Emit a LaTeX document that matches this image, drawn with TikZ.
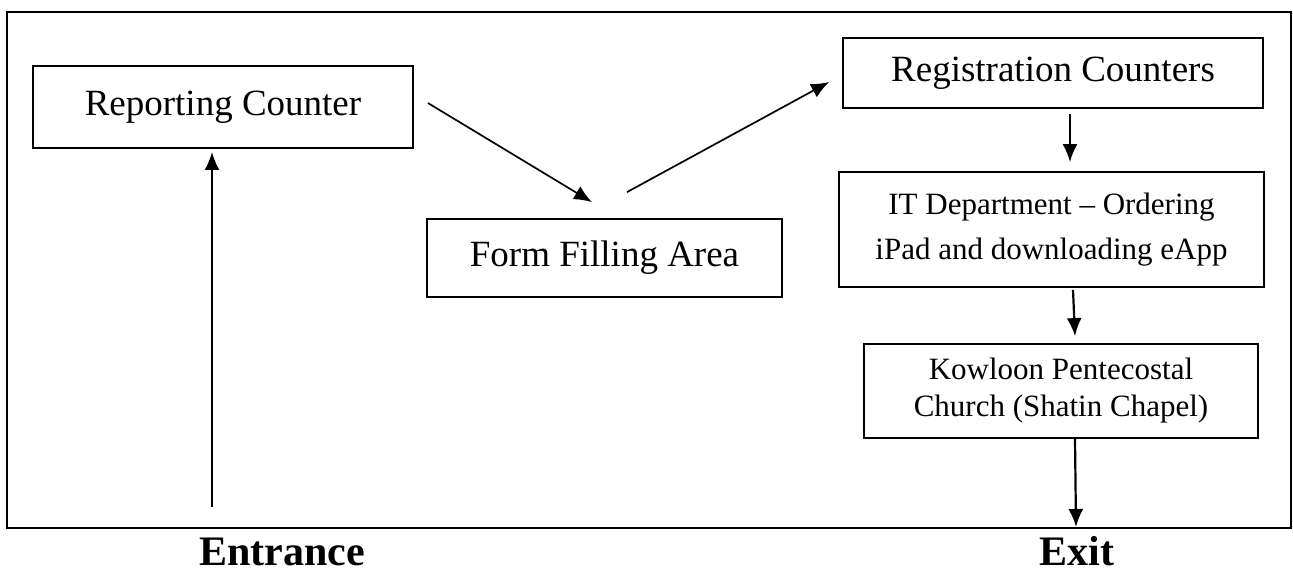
\documentclass[tikz,border=0pt]{standalone}
\usepackage{fontspec}
\setmainfont{Liberation Serif}
\usetikzlibrary{arrows.meta,calc,positioning}
\tikzset{%
	station/.style = {draw, rectangle, line width=1.8pt, inner sep=0pt, text centered, font=\fontsize{37}{44}\selectfont},
	smalltext/.style = {align=center, font=\fontsize{31}{#1}\selectfont},
	gate/.style    = {anchor=base, font=\fontsize{42}{50}\selectfont\bfseries},
	arrow/.style   = {line width=2.2pt, -{Latex[length=18pt,width=15pt]}},
	slant/.style   = {line width=1.7pt},
}
\begin{document}
\begin{tikzpicture}[x=1pt,y=-1pt]
	\useasboundingbox (0,0) rectangle (1293,574);
	\fill[white] (0,0) rectangle (1293,574);
	\draw[line width=2.6pt] (7,12) rectangle (1291,528);  % hall

	\node[station, minimum width=380pt, minimum height=82pt] (report) at (223,107) {Reporting Counter};
	\node[station, minimum width=355pt, minimum height=78pt] (form) at (604.5,258) {Form Filling Area};
	\node[station, minimum width=420pt, minimum height=70pt] (regist) at (1053,73) {Registration Counters};
	\node[station, smalltext=45, minimum width=425pt, minimum height=115pt] (itdept) at (1051.5,229.5) {IT Department -- Ordering\\iPad and downloading eApp};
	\node[station, smalltext=37, minimum width=394pt, minimum height=94pt] (church) at (1061,391) {Kowloon Pentecostal\\Church (Shatin Chapel)};

	\node[gate] (entrance) at (282,565) {Entrance};
	\node[gate] (exit) at (1077,565) {Exit};

	\coordinate (in) at (212,507);
	\coordinate (out) at (1076,527);

	\draw[arrow, shorten >=3pt] (in) -- (in |- report.south);
	\draw[arrow, slant] ([xshift=14pt,yshift=4pt]report.east) -- ([xshift=-12.5pt,yshift=16pt]form.north);
	\draw[arrow, slant] ([xshift=22.5pt,yshift=26pt]form.north) -- ([xshift=-13pt,yshift=-9pt]regist.west);
	\draw[arrow] ([xshift=17pt,yshift=-5pt]regist.south) -- ([xshift=18.5pt,yshift=9pt]itdept.north);
	\draw[arrow] ([xshift=21.5pt,yshift=-2pt]itdept.south) -- ([xshift=14pt,yshift=7pt]church.north);
	\draw[arrow] ([xshift=14pt]church.south) -- (out);
\end{tikzpicture}
\end{document}
